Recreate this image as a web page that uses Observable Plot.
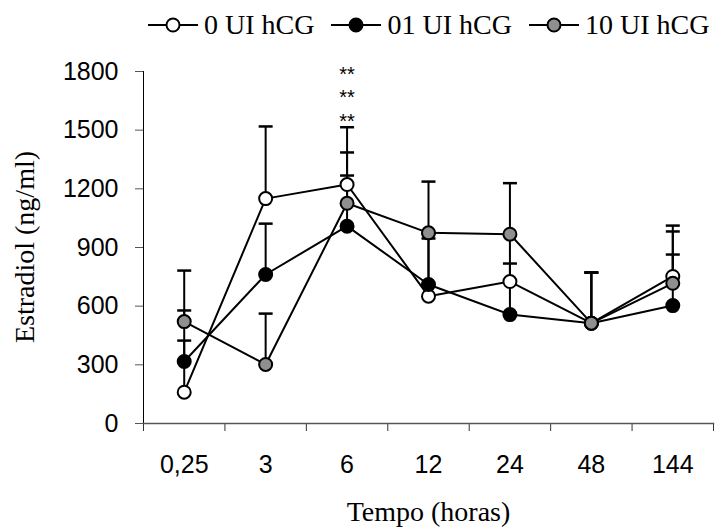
<!DOCTYPE html>
<html>
<head>
<meta charset="utf-8">
<script src="https://cdn.jsdelivr.net/npm/d3@7"></script>
<script src="https://cdn.jsdelivr.net/npm/@observablehq/plot@0.6"></script>
<style>
  html, body { margin: 0; padding: 0; background: white; }
  #wrap { position: relative; width: 717px; height: 530px; }
  #legend { position: absolute; left: 148px; top: 11px; display: flex; align-items: center;
            font-family: "Liberation Serif", serif; font-size: 28px; line-height: 28px; color: black; white-space: nowrap; }
  .item { display: flex; align-items: center; margin-right: 17px; }
  .item svg { margin-right: 6px; }
</style>
</head>
<body>
<div id="wrap"><div id="legend"></div></div>
<script>
// ---- data ----
const categories = ["0,25", "3", "6", "12", "24", "48", "144"];
const seriesNames = ["0 UI hCG", "01 UI hCG", "10 UI hCG"];
const seriesFills = ["white", "black", "#8f8f8f"];

const ui0 = [160, 1150, 1222, 651, 726, 513, 752];
const ui0Err = [418, 369, 293, 295, 240, 259, 260];

const ui01 = [317, 762, 1009, 711, 557, 513, 603];
const ui01Err = [107, 260, 259, 259, 261, 259, 261];

const ui10 = [521, 302, 1126, 975, 968, 513, 717];
const ui10Err = [261, 260, 260, 262, 261, 259, 265];

const yTicks = [0, 300, 600, 900, 1200, 1500, 1800];
const xBounds = [-0.5, 0.5, 1.5, 2.5, 3.5, 4.5, 5.5, 6.5];

const sigLabel = "**";
const sigCategory = "6";
const sigLevels = [1800, 1680, 1560];

const xTitle = "Tempo (horas)";
const yTitle = "Estradiol (ng/ml)";

// ---- build table ----
const values = [ui0, ui01, ui10];
const errs = [ui0Err, ui01Err, ui10Err];
const rows = [];
seriesNames.forEach((s, k) => {
  categories.forEach((c, i) => {
    rows.push({series: s, k, i, cat: c, v: values[k][i], top: values[k][i] + errs[k][i]});
  });
});
const sigRows = sigLevels.map(y => ({i: categories.indexOf(sigCategory), y}));

const capSymbol = {
  draw(ctx, size) {
    const r = Math.sqrt(size / Math.PI);
    ctx.moveTo(-r, 0);
    ctx.lineTo(r, 0);
  }
};

const lineMarks = seriesNames.map((s, k) =>
  Plot.line(rows.filter(d => d.k === k), {x: "i", y: "v", stroke: "black", strokeWidth: 2}));
const dotMarks = seriesNames.map((s, k) =>
  Plot.dot(rows.filter(d => d.k === k), {x: "i", y: "v", r: 6.5, fill: seriesFills[k], stroke: "black", strokeWidth: 2}));

const chart = Plot.plot({
  width: 717,
  height: 530,
  marginLeft: 143,
  marginRight: 4,
  marginTop: 71,
  marginBottom: 107,
  x: {type: "linear", domain: [-0.5, 6.5]},
  y: {domain: [0, 1800]},
  style: {fontFamily: "Liberation Sans, Arial, sans-serif", background: "transparent", overflow: "visible", color: "black"},
  marks: [
    Plot.axisY({ticks: yTicks, tickSize: 8, tickPadding: 17, fontSize: 25, label: null, stroke: "#555", tickFormat: d => String(d)}),
    Plot.axisX({ticks: xBounds, tickSize: 8, tickFormat: () => "", label: null, stroke: "#333"}),
    Plot.axisX({ticks: d3.range(categories.length), tickSize: 0, tickPadding: 32, fontSize: 25, tickFormat: i => categories[i], label: null}),
    Plot.frame({anchor: "left", stroke: "black"}),
    Plot.frame({anchor: "bottom", stroke: "#555", strokeWidth: 1.5}),
    Plot.ruleX(rows, {x: "i", y1: "v", y2: "top", stroke: "black", strokeWidth: 2}),
    Plot.dot(rows, {x: "i", y: "top", r: 7, symbol: capSymbol, stroke: "black", strokeWidth: 2.5, fill: "none"}),
    ...lineMarks,
    ...dotMarks,
    Plot.text(sigRows, {x: "i", y: "y", text: () => sigLabel, fontSize: 20, dy: 3, fill: "black"}),
    Plot.text([xTitle], {frameAnchor: "bottom", textAnchor: "middle", lineAnchor: "middle", dy: 89, fontSize: 28, fontFamily: "Liberation Serif, serif", fill: "black"})
  ]
});
document.getElementById("wrap").prepend(chart);
chart.style.position = "absolute";
chart.style.left = "0";
chart.style.top = "0";

// y-axis title (rotated)
const yt = document.createElement("div");
yt.textContent = yTitle;
Object.assign(yt.style, {
  position: "absolute", left: "25px", top: "247px", transform: "translate(-50%, -50%) rotate(-90deg)",
  fontFamily: "Liberation Serif, serif", fontSize: "28px", lineHeight: "28px", whiteSpace: "nowrap", color: "black"
});
document.getElementById("wrap").appendChild(yt);

// legend
const legend = document.getElementById("legend");
seriesNames.forEach((s, k) => {
  const item = document.createElement("div");
  item.className = "item";
  item.innerHTML = `<svg width="50" height="20"><line x1="0" x2="50" y1="10" y2="10" stroke="black" stroke-width="2"/><circle cx="25" cy="10" r="6.5" fill="${seriesFills[k]}" stroke="black" stroke-width="2"/></svg><span>${s}</span>`;
  legend.appendChild(item);
});
</script>
</body>
</html>
